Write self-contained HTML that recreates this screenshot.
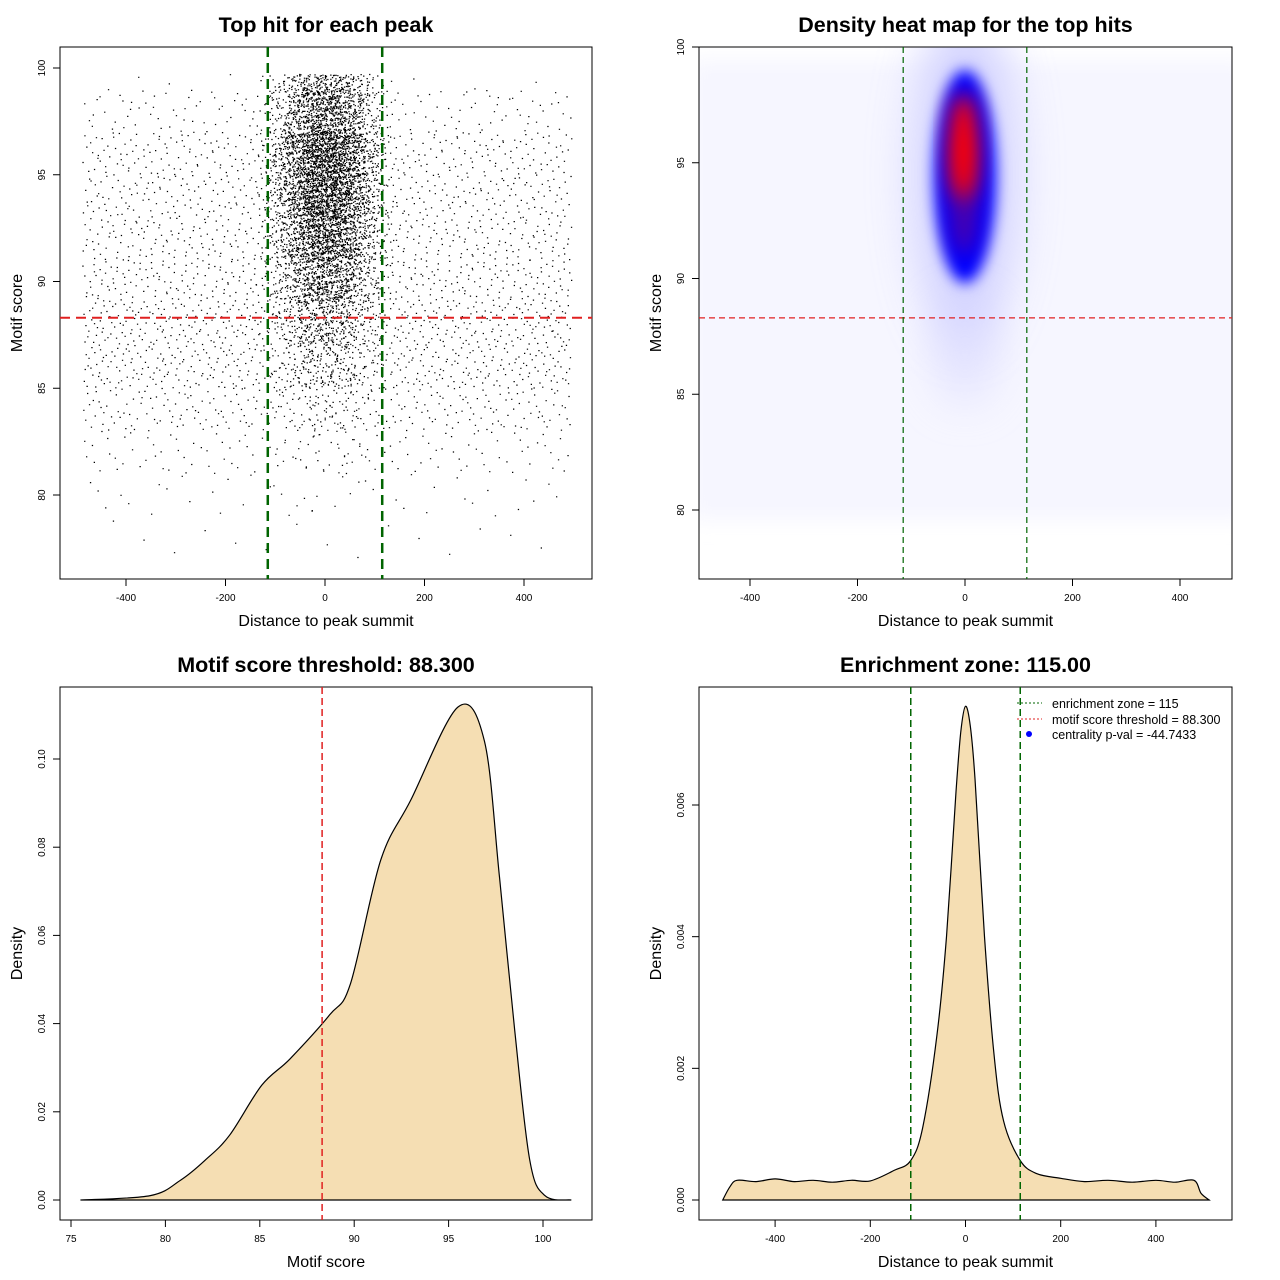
<!DOCTYPE html>
<html><head><meta charset="utf-8"><style>
body{margin:0;background:#fff}
svg{display:block;font-family:"Liberation Sans",sans-serif}
</style></head><body>
<svg id="s" width="1280" height="1280" viewBox="0 0 1280 1280">
<defs>
<filter id="b6" x="-50%" y="-50%" width="200%" height="200%"><feGaussianBlur stdDeviation="7"/></filter>
<filter id="b12" x="-50%" y="-50%" width="200%" height="200%"><feGaussianBlur stdDeviation="10"/></filter>
<filter id="b25" x="-50%" y="-50%" width="200%" height="200%"><feGaussianBlur stdDeviation="22"/></filter>
<clipPath id="c2"><rect x="699" y="47" width="533" height="532"/></clipPath>
</defs>
<g id="g"></g>
</svg>
<script>
// ---------- data ----------
const scatterBands=[77,79,81,83,85,87,89,91,93,95,97,99];
const scatterBgCounts=[15,40,120,260,400,420,360,330,320,300,150,10];
const scatterCoreCounts=[0,5,20,60,180,350,700,1100,1400,1450,900,200];
const scoreX=[75.5,79.2,80.8,82.1,83.4,85.1,86.6,88.7,89.8,91.4,93.0,95.5,96.9,97.7,98.5,99.3,100.1,101.5];
const scoreDens=[0,0.001,0.0045,0.009,0.0147,0.026,0.032,0.042,0.049,0.077,0.0907,0.1118,0.104,0.073,0.0385,0.009,0.001,0];
const distX=[-510,-495,-480,-440,-400,-360,-320,-280,-240,-200,-150,-115,-90,-60,-40,-20,-10,0,10,20,40,60,80,115,150,200,250,300,350,400,440,480,495,512];
const distDens=[0,0.0002,0.0003,0.00028,0.00032,0.00028,0.0003,0.00027,0.0003,0.00029,0.00045,0.0006,0.0011,0.0025,0.004,0.0062,0.0071,0.0075,0.0072,0.0064,0.004,0.0022,0.0012,0.0006,0.0004,0.00033,0.00028,0.0003,0.00027,0.0003,0.00027,0.0003,0.0001,0];
const heatKernels=[ // [x, y, sx, sy, color, opacity, blur]
 [0,94.5,100,7.5,'#c4c4ff',0.7,'b25'],[0,86.8,60,2.2,'#d8d8ff',0.6,'b25'],[0,94.4,58,4.6,'#0000ff',1,'b6'],[-2,93.6,26,2.6,'#800070',0.6,'b12'],[-3,95.7,28,2.3,'#ff0000',1,'b12']];
const threshold=88.3, zone=115;

const NS='http://www.w3.org/2000/svg', G=document.getElementById('g');
function el(t,a,p){const e=document.createElementNS(NS,t);for(const k in a)e.setAttribute(k,a[k]);(p||G).appendChild(e);return e;}
function txt(x,y,s,size,opt){opt=opt||{};const e=el('text',{x:x,y:y,'font-size':size,'text-anchor':opt.anchor||'middle','font-weight':opt.bold?'bold':'normal',fill:'#000'});if(opt.rot)e.setAttribute('transform','rotate(-90 '+x+' '+y+')');e.textContent=s;return e;}
function halton(i,b){let f=1,r=0;while(i>0){f/=b;r+=f*(i%b);i=Math.floor(i/b);}return r;}

function panel(box,name,title,xlab,ylab,xt,yt,xf,yf,xfmt,yfmt){
 const t=txt((box[0]+box[2])/2,32,title,21.5,{bold:true});t.setAttribute('y',box[1]-15);
 
 const r=el('rect',{x:box[0],y:box[1],width:box[2]-box[0],height:box[3]-box[1],fill:'none',stroke:'#000','stroke-width':1});
 
 const xl=txt((box[0]+box[2])/2,box[3]+47,xlab,16);
 const yl=txt(22,(box[1]+box[3])/2,ylab,16,{rot:true});yl.setAttribute('x',box[0]-38);yl.setAttribute('transform','rotate(-90 '+(box[0]-38)+' '+((box[1]+box[3])/2)+')');
 
 el('line',{x1:xf(xt[0]),x2:xf(xt[xt.length-1]),y1:box[3],y2:box[3],stroke:'#000'});
 xt.forEach(v=>{el('line',{x1:xf(v),x2:xf(v),y1:box[3],y2:box[3]+7,stroke:'#000'});const l=txt(xf(v),box[3]+22,xfmt(v),10);});
 el('line',{y1:yf(yt[0]),y2:yf(yt[yt.length-1]),x1:box[0],x2:box[0],stroke:'#000'});
 yt.forEach(v=>{el('line',{y1:yf(v),y2:yf(v),x1:box[0],x2:box[0]-7,stroke:'#000'});const l=txt(box[0]-15,yf(v),yfmt(v),10,{rot:true});});
}
function vline(x,y1,y2,col,w,dash,name){const e=el('line',{x1:x,x2:x,y1:y1,y2:y2,stroke:col,'stroke-width':w,'stroke-dasharray':dash});}
function hline(y,x1,x2,col,w,dash,name){const e=el('line',{x1:x1,x2:x2,y1:y,y2:y,stroke:col,'stroke-width':w,'stroke-dasharray':dash});}

// ---------- Panel 1 scatter ----------
{
 const box=[60,47,592,579];
 const xf=v=>325+v*0.4975, yf=v=>495-(v-80)*21.35;
 panel(box,'scatter','Top hit for each peak','Distance to peak summit','Motif score',[-400,-200,0,200,400],[80,85,90,95,100],xf,yf,v=>String(v),v=>String(v));
 let d='',idx=1;
 scatterBands.forEach((b,i)=>{
  const w=(b===99)?0.7:2;
  for(let k=0;k<scatterBgCounts[i];k++,idx++){
   const x=-488+983*halton(idx,2), y=b+w*halton(idx,3);
   d+='M'+xf(x).toFixed(1)+' '+yf(y).toFixed(1)+'h1.3';
  }
  for(let k=0;k<scatterCoreCounts[i];k++,idx++){
   const x=(halton(idx,5)+halton(idx,7)+halton(idx,2)-1.5)*100, y=b+w*halton(idx,3);
   d+='M'+xf(x).toFixed(1)+' '+yf(y).toFixed(1)+'h1.3';
  }
 });
 const p=el('path',{d:d,stroke:'#000','stroke-width':1.2,fill:'none'});
 
 hline(yf(threshold),box[0],box[2],'#e02020',2,'10,6','threshold-line');
 vline(xf(-zone),box[1],box[3],'#006400',2.5,'10,6','zone-left-line');
 vline(xf(zone),box[1],box[3],'#006400',2.5,'10,6','zone-right-line');
}
// ---------- Panel 2 heatmap ----------
{
 const box=[699,47,1232,579];
 const xf=v=>965+v*0.5375, yf=v=>510-(v-80)*23.15;
 const hg=el('g',{'clip-path':'url(#c2)'});
 
 el('rect',{x:690,y:60,width:560,height:460,fill:'#f6f6ff',filter:'url(#b12)'},hg);
 heatKernels.forEach(k=>{
  const e=el('ellipse',{cx:xf(k[0]),cy:yf(k[1]),rx:k[2]*0.5375,ry:k[3]*23.15,fill:k[4],opacity:k[5],filter:'url(#'+k[6]+')'},hg);
  
 });
 panel(box,'heatmap','Density heat map for the top hits','Distance to peak summit','Motif score',[-400,-200,0,200,400],[80,85,90,95,100],xf,yf,v=>String(v),v=>String(v));
 hline(yf(threshold),box[0],box[2],'#e02020',1.2,'6,4','heat-threshold-line');
 vline(xf(-zone),box[1],box[3],'#006400',1.2,'6,4','heat-zone-left');
 vline(xf(zone),box[1],box[3],'#006400',1.2,'6,4','heat-zone-right');
}
function smoothPath(pts){let d='M'+pts[0][0]+' '+pts[0][1];
 for(let i=0;i<pts.length-1;i++){const p0=pts[Math.max(0,i-1)],p1=pts[i],p2=pts[i+1],p3=pts[Math.min(pts.length-1,i+2)];
  d+='C'+(p1[0]+(p2[0]-p0[0])/6).toFixed(1)+' '+(p1[1]+(p2[1]-p0[1])/6).toFixed(1)+','+(p2[0]-(p3[0]-p1[0])/6).toFixed(1)+' '+(p2[1]-(p3[1]-p1[1])/6).toFixed(1)+','+p2[0].toFixed(1)+' '+p2[1].toFixed(1);}
 return d;}
// ---------- Panel 3 ----------
{
 const box=[60,687,592,1220];
 const xf=v=>71+(v-75)*18.88, yf=v=>1200-v*4410;
 const pts=scoreX.map((x,i)=>[xf(x),yf(scoreDens[i])]);
 const p=el('path',{d:smoothPath(pts)+'Z',fill:'#f5deb3',stroke:'#000','stroke-width':1.2});
 
 panel(box,'score-density','Motif score threshold: 88.300','Motif score','Density',[75,80,85,90,95,100],[0,0.02,0.04,0.06,0.08,0.10],xf,yf,v=>String(v),v=>v.toFixed(2));
 vline(xf(threshold),box[1],box[3],'#e02020',1.5,'7,4','score-threshold-line');
}
// ---------- Panel 4 ----------
{
 const box=[699,687,1232,1220];
 const xf=v=>965.5+v*0.476, yf=v=>1200-v*65833;
 const pts=distX.map((x,i)=>[xf(x),yf(distDens[i])]);
 const p=el('path',{d:smoothPath(pts)+'Z',fill:'#f5deb3',stroke:'#000','stroke-width':1.2});
 
 panel(box,'enrichment','Enrichment zone: 115.00','Distance to peak summit','Density',[-400,-200,0,200,400],[0,0.002,0.004,0.006],xf,yf,v=>String(v),v=>v.toFixed(3));
 vline(xf(-zone),box[1],box[3],'#006400',1.5,'7,4','enrich-zone-left');
 vline(xf(zone),box[1],box[3],'#006400',1.5,'7,4','enrich-zone-right');
 const lg=el('g',{});
 el('line',{x1:1017,x2:1042,y1:703,y2:703,stroke:'#006400','stroke-dasharray':'2,2'},lg);
 el('line',{x1:1017,x2:1042,y1:719,y2:719,stroke:'#e02020','stroke-dasharray':'2,2'},lg);
 el('circle',{cx:1029,cy:734,r:3,fill:'#0000ff'},lg);
 [['enrichment zone = 115',708],['motif score threshold = 88.300',724],['centrality p-val = -44.7433',739]].forEach(a=>{const t=txt(1052,a[1],a[0],12.5,{anchor:'start'});lg.appendChild(t);});
}
</script>
</body></html>
